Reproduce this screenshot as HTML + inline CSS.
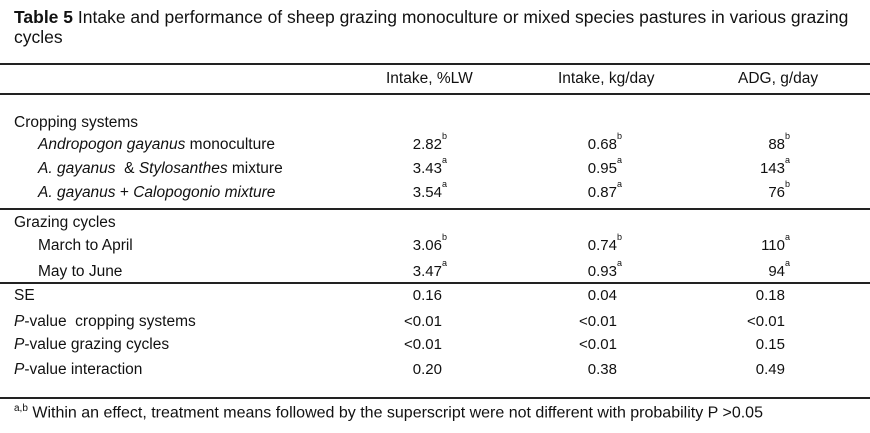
<!DOCTYPE html>
<html><head><meta charset="utf-8">
<style>
body{margin:0;background:#fff;}
#root{position:relative;width:870px;height:433px;overflow:hidden;background:#fff;font-family:"Liberation Sans",Arial,sans-serif;color:#111;font-size:15px;}
.t{position:absolute;white-space:nowrap;line-height:18px;}
.r{position:absolute;white-space:nowrap;line-height:18px;text-align:right;}
.r sup{position:absolute;left:100%;top:-4px;font-size:9px;line-height:9px;}
.hl{position:absolute;left:0;width:870px;height:2px;background:#222;}
</style></head><body>
<div id="root">
<div class="t" style="left:14px;top:8px;font-size:17.5px"><b>Table 5</b> Intake and performance of sheep grazing monoculture or mixed species pastures in various grazing</div>
<div class="t" style="left:14px;top:28px;font-size:17.5px">cycles</div>
<div class="hl" style="top:63px"></div>
<div class="hl" style="top:93px"></div>
<div class="hl" style="top:208px"></div>
<div class="hl" style="top:282px"></div>
<div class="hl" style="top:397px"></div>

<div class="t" style="left:386px;top:70px;font-size:15.5px">Intake, %LW</div>
<div class="t" style="left:558px;top:70px;font-size:15.5px">Intake, kg/day</div>
<div class="t" style="left:738px;top:70px;font-size:15.5px">ADG, g/day</div>

<div class="t" style="left:14px;top:400px;font-size:16px"><sup style="font-size:10px">a,b</sup> Within an effect, treatment means followed by the superscript were not different with probability P &gt;0.05</div>
</div>
<script>
const rowLabels=["Cropping systems","<i>Andropogon gayanus</i> monoculture","<i>A. gayanus</i> &nbsp;&amp; <i>Stylosanthes</i> mixture","<i>A. gayanus</i> + <i>Calopogonio mixture</i>","Grazing cycles","March to April","May to June","SE","<i>P</i>-value &nbsp;cropping systems","<i>P</i>-value grazing cycles","<i>P</i>-value interaction"];
const rowY=[123,145,169,193,223,246,272,296,322,345,370];
const rowIndent=[0,1,1,1,0,1,1,0,0,0,0];
const intakeLW=["","2.82|b","3.43|a","3.54|a","","3.06|b","3.47|a","0.16","<0.01","<0.01","0.20"];
const intakeKg=["","0.68|b","0.95|a","0.87|a","","0.74|b","0.93|a","0.04","<0.01","<0.01","0.38"];
const adg=["","88|b","143|a","76|b","","110|a","94|a","0.18","<0.01","0.15","0.49"];
const cols=[intakeLW,intakeKg,adg];
const colRight=[442,617,785];
const colNames=['intake-lw','intake-kg','adg'];
const root=document.getElementById('root');
rowLabels.forEach((lab,i)=>{
  const d=document.createElement('div');
  d.className='t';
  d.style.left=(rowIndent[i]?38:14)+'px';
  d.style.top=(rowY[i]-9)+'px';
  d.style.fontSize='15.5px';
  d.innerHTML=lab;
  
  
  root.appendChild(d);
  cols.forEach((c,j)=>{
    if(!c[i])return;
    const [v,s]=c[i].split('|');
    const e=document.createElement('div');
    e.className='r';
    e.style.right=(870-colRight[j])+'px';
    e.style.top=(rowY[i]-9)+'px';
    e.textContent=v;
    if(s){const sp=document.createElement('sup');sp.textContent=s;e.appendChild(sp);}
    
    
    root.appendChild(e);
  });
});
</script>
</body></html>
